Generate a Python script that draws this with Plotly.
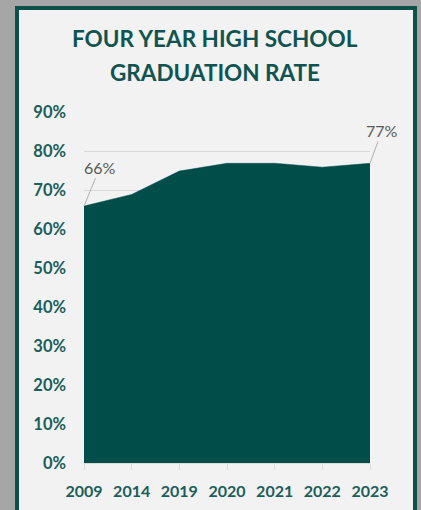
import plotly.graph_objects as go

years = ["2009", "2014", "2019", "2020", "2021", "2022", "2023"]
rates = [66, 69, 75, 77, 77, 76, 77]
y_ticks = [0, 10, 20, 30, 40, 50, 60, 70, 80, 90]
title_lines = ["FOUR YEAR HIGH SCHOOL", "GRADUATION RATE"]

W, H = 421, 510
TEAL = "#004d4a"
TEXT_TEAL = "#1b5d59"

x_idx = list(range(len(years)))

fig = go.Figure()
fig.add_trace(go.Scatter(
    x=x_idx, y=rates, mode="lines", fill="tozeroy",
    line=dict(color=TEAL, width=0.5), fillcolor=TEAL,
    hoverinfo="skip", showlegend=False,
))

# panel background with border
fig.add_shape(type="rect", xref="paper", yref="paper",
              x0=17 / W, x1=415 / W, y0=-0.05, y1=1 - 8 / H,
              fillcolor="#f2f2f2", line=dict(color="#0d4f4b", width=4), layer="below")

# title
for i, t in enumerate(title_lines):
    fig.add_annotation(text=f"<b>{t}</b>", xref="paper", yref="paper",
                       x=215 / W, y=1 - (39 + 33.5 * i) / H, showarrow=False,
                       xanchor="center", yanchor="middle",
                       font=dict(family="Lato", size=22.5, color="#0f5450"))

# data labels for first and last
for i, (ax, ay) in [(0, (16, -39)), (len(years) - 1, (12, -33))]:
    fig.add_annotation(x=x_idx[i], y=rates[i], xref="x", yref="y",
                       text=f"{rates[i]}%", showarrow=True, arrowhead=0,
                       arrowwidth=1, arrowcolor="#b0b0b0", ax=ax, ay=ay,
                       font=dict(family="Lato", size=16, color="#595959"))

fig.update_layout(
    width=W, height=H,
    margin=dict(l=0, r=0, t=0, b=0, autoexpand=False),
    paper_bgcolor="#a6a6a6", plot_bgcolor="rgba(0,0,0,0)",
    xaxis=dict(domain=[84 / W, 370 / W], range=[0, len(years) - 1],
               automargin=False,
               tickvals=x_idx, ticktext=[f"<b>{y}</b>" for y in years],
               showgrid=False, zeroline=False, showline=True, linecolor="#d9d9d9",
               ticks="outside", ticklen=6, tickcolor="#d9d9d9",
               ticklabelstandoff=8,
               tickfont=dict(family="Lato", size=16, color=TEXT_TEAL)),
    yaxis=dict(domain=[1 - 463 / H, 1 - 112.7 / H], range=[0, 90],
               automargin=False,
               tickvals=y_ticks, ticktext=[f"<b>{v}%</b>" for v in y_ticks],
               showgrid=True, gridcolor="#d9d9d9", gridwidth=1,
               zeroline=False, showline=False,
               ticks="", ticklabelstandoff=17,
               tickfont=dict(family="Lato", size=16.5, color=TEXT_TEAL)),
)

fig.write_html("out.html",
               config={"displayModeBar": False},
               post_script="document.body.style.margin='0';document.body.style.overflow='hidden';")
